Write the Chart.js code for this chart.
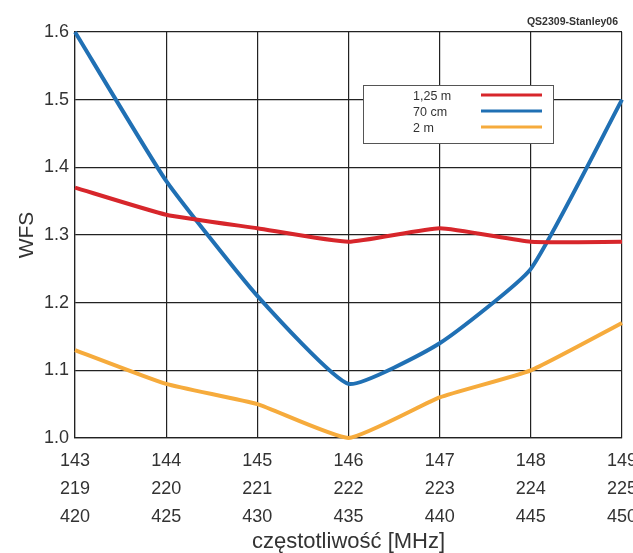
<!DOCTYPE html>
<html><head><meta charset="utf-8">
<script src="https://cdn.jsdelivr.net/npm/chart.js@4/dist/chart.umd.min.js"></script>
<style>html,body{margin:0;padding:0;background:#fff}#wrap{width:633px;height:553px}</style>
</head><body><div id="wrap"><canvas id="c" width="633" height="553"></canvas></div>
<script>
const labelsMHz2m = ['143','144','145','146','147','148','149'];
const labelsMHz125 = ['219','220','221','222','223','224','225'];
const labelsMHz70 = ['420','425','430','435','440','445','450'];
const seriesNames = ['1,25 m','70 cm','2 m'];
const wfs125m = [1.37,1.33,1.31,1.29,1.31,1.29,1.29];
const wfs70cm = [1.60,1.38,1.21,1.08,1.14,1.25,1.50];
const wfs2m = [1.13,1.08,1.05,1.00,1.06,1.10,1.17];
const yTicks = [1.0,1.1,1.2,1.3,1.4,1.5,1.6];
const titleText = 'QS2309-Stanley06';
const xTitle = 'częstotliwość [MHz]';
const yTitle = 'WFS';

const colors = ['#d7262b','#2070b4','#f6ab3c'];
const FONT = "'Liberation Sans', Arial, sans-serif";
const labels = labelsMHz2m.map((v,i)=>[v, labelsMHz125[i], labelsMHz70[i]]);

const legendPlugin = {
  id:'boxLegend',
  afterDraw(chart){
    const ctx = chart.ctx;
    ctx.save();
    const x0=363,y0=85,w=190,h=58;
    ctx.fillStyle='#fff';
    ctx.fillRect(x0,y0,w,h);
    ctx.strokeStyle='#555';ctx.lineWidth=1;
    ctx.strokeRect(x0+0.5,y0+0.5,w,h);
    ctx.font="12.5px "+FONT;
    ctx.textBaseline='middle';ctx.textAlign='left';
    chart.data.datasets.forEach((ds,i)=>{
      const y=97+i*16;
      ctx.fillStyle='#333';
      ctx.fillText(ds.label,413,y);
      ctx.strokeStyle=ds.borderColor;ctx.lineWidth=3;
      ctx.beginPath();ctx.moveTo(481,y-2);ctx.lineTo(542,y-2);ctx.stroke();
    });
    ctx.font="bold 10.5px "+FONT;
    ctx.fillStyle='#333';ctx.textAlign='right';
    ctx.fillText(titleText,618,22);
    ctx.restore();
  }
};

new Chart(document.getElementById('c'),{
  type:'line',
  data:{labels:labels,datasets:[
    {label:seriesNames[0],data:wfs125m,borderColor:colors[0]},
    {label:seriesNames[1],data:wfs70cm,borderColor:colors[1]},
    {label:seriesNames[2],data:wfs2m,borderColor:colors[2]}
  ].map(d=>Object.assign(d,{borderWidth:4,pointRadius:0,tension:0.15,fill:false,clip:false}))},
  options:{
    responsive:false,animation:false,
    layout:{padding:{top:32,right:11,left:0,bottom:0}},
    plugins:{legend:{display:false},tooltip:{enabled:false}},
    scales:{
      x:{
        offset:false,
        grid:{color:'#222',lineWidth:1.2,drawTicks:false},
        border:{color:'#222',width:1.2},
        ticks:{color:'#333',font:{family:FONT,size:18,lineHeight:1.55},padding:9,maxRotation:0,autoSkip:false},
        title:{display:true,text:xTitle,color:'#333',font:{family:FONT,size:22,lineHeight:1.0},padding:{top:0,bottom:0}},
        afterFit(s){s.height=115;s.paddingLeft=0;s.paddingRight=0;}
      },
      y:{
        min:1.0,max:1.6,
        afterBuildTicks(s){s.ticks=yTicks.map(v=>({value:v}));},
        grid:{color:'#222',lineWidth:1.2,drawTicks:false},
        border:{color:'#222',width:1.2},
        ticks:{color:'#333',font:{family:FONT,size:18},padding:6,callback:v=>v.toFixed(1)},
        title:{display:true,text:yTitle,color:'#333',font:{family:FONT,size:21},padding:{top:15,bottom:0}},
        afterFit(s){s.width=75;s.paddingTop=0;s.paddingBottom=0;}
      }
    }
  },
  plugins:[legendPlugin]
});
</script></body></html>
